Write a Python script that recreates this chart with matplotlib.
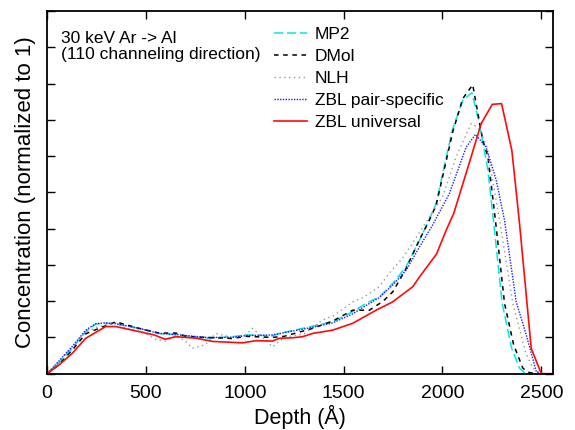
import matplotlib
matplotlib.use("Agg")
import matplotlib.pyplot as plt
import numpy as np

plt.rcParams['font.family'] = ['Liberation Sans', 'DejaVu Sans']

mp2_x = [0, 60, 127, 195, 246, 296, 347, 400, 465, 566, 668, 803, 937, 1005, 1140, 1174,
         1343, 1444, 1546, 1613, 1681, 1749, 1816, 1884, 1931, 1968, 2049, 2103, 2149, 2187,
         2230, 2258, 2302, 2350, 2390, 2420, 2450]
mp2_y = [0, 0.03, 0.07, 0.116, 0.137, 0.139, 0.137, 0.132, 0.125, 0.111, 0.107, 0.0975, 0.102,
         0.107, 0.104, 0.111, 0.131, 0.143, 0.171, 0.194, 0.212, 0.249, 0.295, 0.368, 0.423,
         0.469, 0.671, 0.754, 0.775, 0.69, 0.561, 0.423, 0.194, 0.07, 0.015, 0, 0]

dmol_x = [0, 60, 127, 195, 262, 347, 400, 465, 566, 650, 700, 803, 937, 1005, 1140, 1200,
          1343, 1444, 1546, 1630, 1700, 1749, 1816, 1884, 1931, 1968, 2052, 2103, 2153, 2204,
          2230, 2268, 2314, 2360, 2407, 2440, 2480]
dmol_y = [0, 0.025, 0.065, 0.11, 0.125, 0.143, 0.135, 0.125, 0.112, 0.112, 0.103, 0.1, 0.097,
          0.103, 0.1, 0.103, 0.125, 0.145, 0.175, 0.175, 0.2, 0.226, 0.29, 0.37, 0.42, 0.465,
          0.667, 0.759, 0.797, 0.644, 0.598, 0.423, 0.194, 0.08, 0.015, 0.003, 0]

nlh_x = [0, 60, 127, 195, 262, 300, 347, 397, 465, 549, 600, 650, 700, 735, 800, 853, 937,
         1000, 1039, 1090, 1140, 1200, 1300, 1393, 1450, 1546, 1600, 1680, 1731, 1800, 1884,
         2001, 2069, 2145, 2187, 2225, 2289, 2356, 2420, 2457, 2500]
nlh_y = [0, 0.035, 0.075, 0.115, 0.13, 0.135, 0.14, 0.125, 0.12, 0.095, 0.09, 0.105, 0.09,
         0.07, 0.08, 0.111, 0.1, 0.105, 0.125, 0.1, 0.074, 0.1, 0.11, 0.148, 0.16, 0.198, 0.21,
         0.24, 0.277, 0.32, 0.39, 0.488, 0.598, 0.69, 0.676, 0.625, 0.423, 0.194, 0.06, 0.015, 0]

zblp_x = [0, 60, 127, 195, 246, 296, 347, 465, 566, 668, 803, 937, 1005, 1140, 1200, 1343,
          1444, 1546, 1613, 1681, 1749, 1816, 1884, 1950, 2035, 2120, 2167, 2221, 2272, 2314,
          2373, 2424, 2475, 2500]
zblp_y = [0, 0.035, 0.075, 0.12, 0.138, 0.14, 0.138, 0.125, 0.111, 0.107, 0.1, 0.1, 0.105,
          0.107, 0.113, 0.128, 0.14, 0.165, 0.188, 0.21, 0.245, 0.285, 0.35, 0.41, 0.497,
          0.625, 0.66, 0.625, 0.534, 0.423, 0.198, 0.107, 0.005, 0]

zblu_x = [0, 60, 127, 195, 296, 347, 465, 541, 597, 651, 752, 836, 988, 1056, 1140, 1174,
          1242, 1292, 1343, 1444, 1546, 1664, 1748, 1850, 1884, 1970, 2019, 2057, 2145, 2196,
          2252, 2299, 2351, 2390, 2449, 2500, 2550]
zblu_y = [0, 0.024, 0.056, 0.0975, 0.13, 0.13, 0.116, 0.107, 0.095, 0.102, 0.098, 0.089,
          0.085, 0.091, 0.09, 0.0975, 0.099, 0.102, 0.111, 0.12, 0.139, 0.175, 0.198, 0.24,
          0.267, 0.33, 0.396, 0.442, 0.598, 0.69, 0.743, 0.745, 0.616, 0.414, 0.07, 0, 0]

x_ticks = [0, 500, 1000, 1500, 2000, 2500]

fig = plt.figure(figsize=(5.75, 4.3), dpi=100)
ax = fig.add_axes([0.082, 0.131, 0.880, 0.843])

ax.plot(mp2_x, mp2_y, color='#00e8e8', lw=1.1, dashes=(6, 2.5), label='MP2')
ax.plot(dmol_x, dmol_y, color='black', lw=1.1, dashes=(3, 3), label='DMol')
ax.plot(nlh_x, nlh_y, color='#999999', lw=1.0, dashes=(1, 2.5), label='NLH')
ax.plot(zblp_x, zblp_y, color='#1a1aff', lw=1.0, dashes=(1, 1), label='ZBL pair-specific')
ax.plot(zblu_x, zblu_y, color='#ff0a0a', lw=1.2, label='ZBL universal')

ax.set_xlim(0, 2560)
ax.set_ylim(0, 1.0)
ax.set_xticks(x_ticks)
ax.set_yticks(np.arange(0, 1.01, 0.1))
ax.set_yticklabels([])
ax.tick_params(direction='in', top=True, right=True, length=5.5, width=1.0, labelsize=14, pad=8)
for s in ax.spines.values():
    s.set_linewidth(1.3)

ax.set_xlabel('Depth (Å)', fontsize=15.5, labelpad=2)
ax.set_ylabel('Concentration (normalized to 1)', fontsize=16, labelpad=0)

ax.text(0.028, 0.945, '30 keV Ar -> Al\n(110 channeling direction)', transform=ax.transAxes,
        fontsize=12.5, va='top', ha='left', linespacing=1.05)

ax.legend(loc='upper left', bbox_to_anchor=(0.417, 1.0), frameon=False, fontsize=12.5,
          handlelength=1.9, handletextpad=0.45, labelspacing=0.4, borderaxespad=0.5)

fig.savefig('out.png', dpi=100)
